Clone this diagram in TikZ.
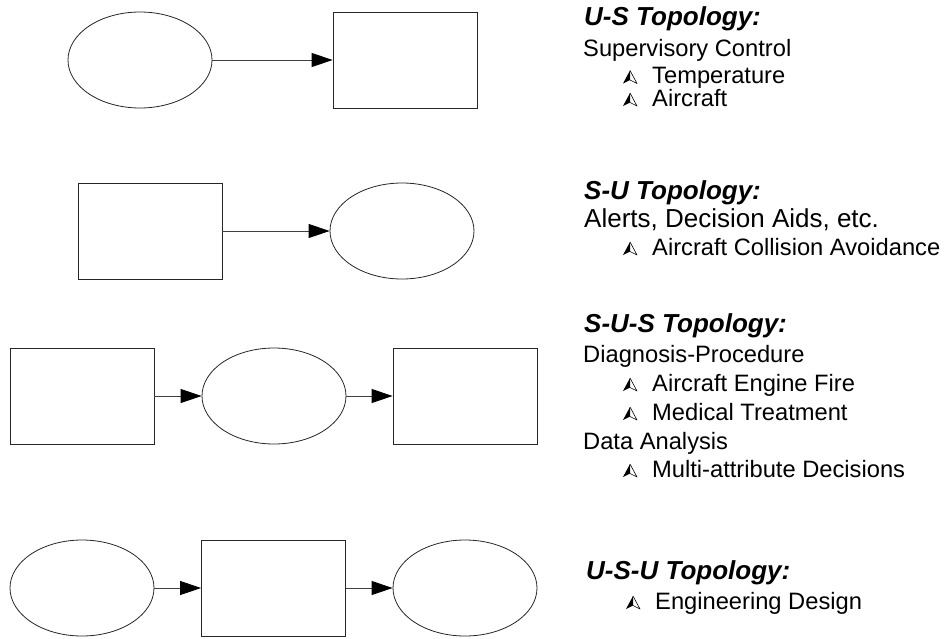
\documentclass[tikz,border=0pt]{standalone}
\usepackage{fontspec}
\setmainfont{Liberation Sans}
\usetikzlibrary{shapes.geometric,arrows.meta}

\tikzset{
  unit/.style={draw=black!85, line width=0.8pt, ellipse, minimum width=144pt, minimum height=96pt, inner sep=0pt},
  sys/.style={draw=black!85, line width=0.8pt, rectangle, minimum width=144pt, minimum height=96pt, inner sep=0pt},
  flow/.style={draw=black!75, line width=0.9pt, -{Triangle[length=21pt,width=14pt,color=black,fill=black]}},
  heading/.style={anchor=base west, inner sep=0pt, font=\fontsize{26}{30}\selectfont\bfseries\itshape},
  body/.style={anchor=base west, inner sep=0pt, font=\fontsize{23.7}{28}\selectfont},
  bodylarge/.style={anchor=base west, inner sep=0pt, font=\fontsize{26}{30}\selectfont},
  % small arrowhead bullet: dark left half, outlined right half
  mark/.pic={
    \fill[black] (0,-13) -- (-7,0) -- (0,-3.5) -- cycle;
    \draw[black, line width=0.6pt, line join=round] (0,-13) -- (7,0) -- (0,-3.5);
  }
}

\begin{document}
\begin{tikzpicture}[x=1pt,y=-1pt]
\useasboundingbox (0,0) rectangle (944,638);

% U-S
\node[unit] (us1) at (140,60) {};
\node[sys]  (us2) at (405,60) {};
\draw[flow] (us1) -- (us2);

% S-U
\node[sys]  (su1) at (150,231) {};
\node[unit] (su2) at (402,231) {};
\draw[flow] (su1) -- (su2);

% S-U-S
\node[sys]  (sus1) at (82,396) {};
\node[unit] (sus2) at (274,396) {};
\node[sys]  (sus3) at (465,396) {};
\draw[flow] (sus1) -- (sus2);
\draw[flow] (sus2) -- (sus3);

% U-S-U
\node[unit] (usu1) at (82,588) {};
\node[sys]  (usu2) at (273.5,588) {};
\node[unit] (usu3) at (465,588) {};
\draw[flow] (usu1) -- (usu2);
\draw[flow] (usu2) -- (usu3);

% Text column
\node[heading] (t1) at (584,25) {U-S Topology:};
\node[body] (t1a) at (583,56) {Supervisory Control};
\node[body] (t1b) at (652,83.5) {Temperature};
\node[body] (t1c) at (652,106) {Aircraft};
\pic at (630,83.5) {mark};
\pic at (630,106) {mark};

\node[heading] (t2) at (584,199) {S-U Topology:};
\node[bodylarge] (t2a) at (584,227.5) {Alerts, Decision Aids, etc.};
\node[body] (t2b) at (652,255) {Aircraft Collision Avoidance};
\pic at (630,255) {mark};

\node[heading] (t3) at (584,332) {S-U-S Topology:};
\node[body] (t3a) at (583,362) {Diagnosis-Procedure};
\node[body] (t3b) at (652,391) {Aircraft Engine Fire};
\node[body] (t3c) at (652,420) {Medical Treatment};
\node[body] (t3d) at (583,449) {Data Analysis};
\node[body] (t3e) at (652,477) {Multi-attribute Decisions};
\pic at (630,391) {mark};
\pic at (630,420) {mark};
\pic at (630,477) {mark};

\node[heading] (t4) at (586,579) {U-S-U Topology:};
\node[body] (t4a) at (655,609) {Engineering Design};
\pic at (633,609) {mark};
\end{tikzpicture}
\end{document}
